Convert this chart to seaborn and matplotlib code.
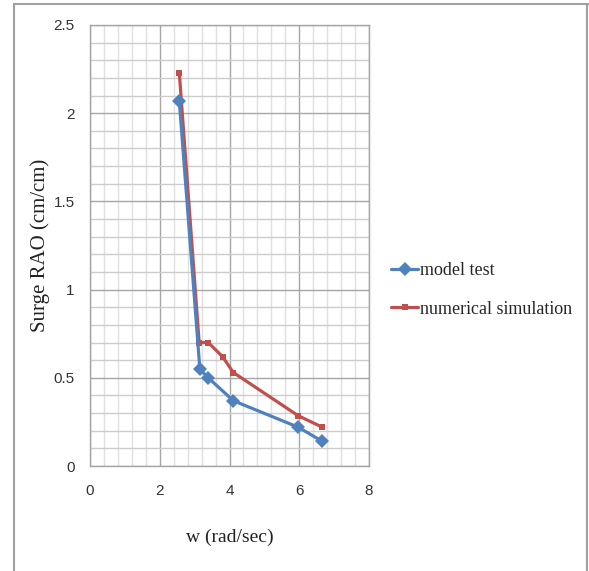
import matplotlib
matplotlib.use("Agg")
import matplotlib.pyplot as plt
from matplotlib.lines import Line2D
from matplotlib.ticker import MultipleLocator
import pandas as pd
import seaborn as sns

# data
w_model = [2.56, 3.15, 3.39, 4.11, 5.97, 6.66]
rao_model = [2.07, 0.55, 0.50, 0.37, 0.22, 0.14]
w_num = [2.56, 3.13, 3.39, 3.80, 4.11, 5.97, 6.66]
rao_num = [2.23, 0.70, 0.70, 0.62, 0.53, 0.285, 0.22]

x_ticks = [0, 2, 4, 6, 8]
y_ticks = [0, 0.5, 1, 1.5, 2, 2.5]
y_tick_labels = ["0", "0.5", "1", "1.5", "2", "2.5"]

df_model = pd.DataFrame({"w": w_model, "rao": rao_model})
df_num = pd.DataFrame({"w": w_num, "rao": rao_num})

sns.set_style("white")
serif = ["Liberation Serif", "DejaVu Serif"]
sans = ["Liberation Sans", "DejaVu Sans"]

fig = plt.figure(figsize=(5.89, 5.71), dpi=100)
ax = fig.add_axes([90 / 589, 1 - 466 / 571, 279 / 589, 441 / 571])

blue = "#4F81BD"
red = "#C0504D"

sns.lineplot(data=df_model, x="w", y="rao", ax=ax, color=blue, lw=2.3,
             marker="D", markersize=7, markeredgewidth=0, sort=False,
             label="model test", zorder=4)
sns.lineplot(data=df_num, x="w", y="rao", ax=ax, color=red, lw=2.3,
             marker="s", markersize=4.5, markeredgewidth=0, sort=False,
             label="numerical simulation", zorder=3)

ax.set_xlim(0, 8)
ax.set_ylim(0, 2.5)
ax.set_xticks(x_ticks)
ax.set_yticks(y_ticks)
ax.set_yticklabels(y_tick_labels)
ax.xaxis.set_minor_locator(MultipleLocator(0.4))
ax.yaxis.set_minor_locator(MultipleLocator(0.1))

# Excel-like grid
ax.xaxis.grid(True, which="major", color="#a6a6a6", lw=1)
ax.yaxis.grid(True, which="major", color="#a6a6a6", lw=1)
ax.xaxis.grid(True, which="minor", color="#e0e0e0", lw=1)
ax.yaxis.grid(True, which="minor", color="#cccccc", lw=1)
ax.set_axisbelow(True)

for s in ax.spines.values():
    s.set_color("#a6a6a6")
    s.set_linewidth(1)

ax.tick_params(which="major", direction="out", length=4, width=1,
               color="#8c8c8c", pad=7, labelsize=11)
ax.tick_params(which="minor", length=0)
ax.tick_params(axis="x", pad=9)
for lab in ax.get_xticklabels() + ax.get_yticklabels():
    lab.set_family(sans)
    lab.set_color("#333333")

ax.set_xlabel("w (rad/sec)", family=serif, fontsize=14, color="#222222")
ax.set_ylabel("Surge RAO (cm/cm)", family=serif, fontsize=15, color="#222222")
ax.xaxis.set_label_coords((230 - 90) / 279, -(537 - 466) / 441, transform=ax.transAxes)
ax.yaxis.set_label_coords(-(90 - 40) / 279, (466 - 245) / 441, transform=ax.transAxes)
ax.xaxis.label.set_va("center")
ax.yaxis.label.set_va("center")

ax.get_legend().remove()
handles = [
    Line2D([], [], color=blue, lw=2.3, marker="D", markersize=7, markeredgewidth=0),
    Line2D([], [], color=red, lw=2.3, marker="s", markersize=4.5, markeredgewidth=0),
]
fig.legend(handles, ["model test", "numerical simulation"], loc="upper left",
           bbox_to_anchor=(391 / 589, 1 - 262 / 571), frameon=False,
           prop={"family": serif, "size": 13}, labelspacing=1.2,
           handlelength=1.5, handletextpad=0.1, borderpad=0, borderaxespad=0)

# outer chart frame
fc = "#a0a0a0"
fig.add_artist(Line2D([14 / 589, 14 / 589], [0, 1 - 4 / 571], color=fc, lw=1.5,
                      transform=fig.transFigure))
fig.add_artist(Line2D([14 / 589, 1], [1 - 4 / 571, 1 - 4 / 571], color=fc, lw=1.5,
                      transform=fig.transFigure))
fig.add_artist(Line2D([587 / 589, 587 / 589], [0, 1 - 4 / 571], color=fc, lw=1.5,
                      transform=fig.transFigure))

fig.savefig("out.png", dpi=100)
